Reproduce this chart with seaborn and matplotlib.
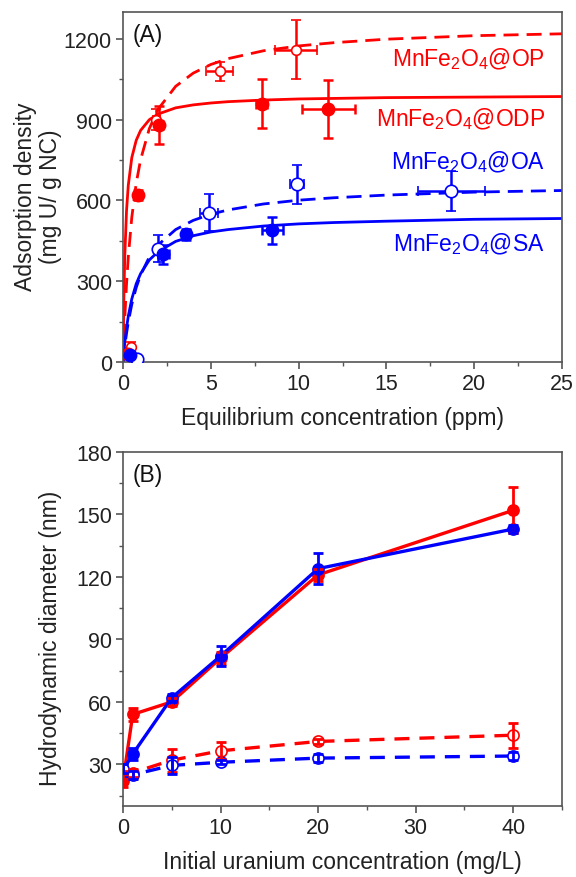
import matplotlib
matplotlib.use("Agg")
import matplotlib.pyplot as plt
import seaborn as sns
from matplotlib.ticker import MultipleLocator

# ---------------- Panel A: fitted isotherm curves ----------------
fit_x   = [0, 0.05, 0.1, 0.2, 0.3, 0.5, 0.75, 1, 1.5, 2, 3, 4, 5, 6, 8, 10, 12, 15, 20, 25]
fit_ODP = [0, 243, 391, 561, 656, 759, 823, 860, 900, 921, 944, 955, 962, 967, 973, 977, 979, 982, 984, 986]
fit_OP  = [0, 87, 163, 289, 389, 537, 663, 751, 867, 939, 1024, 1073, 1105, 1127, 1156, 1174, 1186, 1199, 1212, 1219]
fit_SA  = [0, 38, 71, 126, 170, 234, 290, 328, 379, 410, 448, 469, 483, 492, 505, 513, 518, 523, 530, 533]
fit_OA  = [0, 30, 58, 106, 147, 214, 276, 323, 390, 435, 492, 526, 549, 565, 587, 601, 610, 620, 631, 637]

# ---------------- Panel A: measured points ----------------
odp_x    = [0.3, 0.85, 2.05, 7.9, 11.7]
odp_y    = [30, 620, 880, 960, 940]
odp_xerr = [0.05, 0.1, 0.25, 0.3, 1.5]
odp_yerr = [10, 20, 70, 90, 107]

op_x    = [0.45, 1.9, 5.5, 9.85]
op_y    = [55, 900, 1080, 1160]
op_xerr = [0.1, 0.2, 0.75, 1.2]
op_yerr = [20, 40, 35, 110]

sa_x    = [0.4, 2.3, 3.6, 8.5]
sa_y    = [25, 400, 475, 490]
sa_xerr = [0.1, 0.3, 0.2, 0.6]
sa_yerr = [10, 35, 20, 50]

oa_x    = [0.8, 2.0, 4.9, 9.9, 18.7]
oa_y    = [12, 420, 555, 660, 635]
oa_xerr = [0.15, 0.2, 0.5, 0.4, 1.9]
oa_yerr = [8, 50, 70, 72, 75]

labels_A = ["MnFe$_\\mathregular{2}$O$_\\mathregular{4}$@OP",
            "MnFe$_\\mathregular{2}$O$_\\mathregular{4}$@ODP",
            "MnFe$_\\mathregular{2}$O$_\\mathregular{4}$@OA",
            "MnFe$_\\mathregular{2}$O$_\\mathregular{4}$@SA"]
label_y_A = [1104, 881, 722, 415]

# ---------------- Panel B ----------------
conc_B        = [0, 1, 5, 10, 20, 40]
red_solid     = [22, 54, 60, 81, 121, 152]
red_solid_err = [3, 3, 2, 3, 3, 11]
blue_solid    = [27, 35, 62, 82, 124, 143]
blue_solid_err = [3, 3, 2, 5, 7.5, 2]
red_open      = [25, 26, 32, 36.5, 41, 44]
red_open_err  = [2, 2, 5.5, 4, 1, 6]
blue_open     = [28, 25, 29.5, 31, 33, 34]
blue_open_err = [2, 2, 4, 1, 2, 2]

RED = "#ff0000"
BLUE = "#0000ff"

sns.set_style("ticks")
plt.rcParams['font.family'] = ['Liberation Sans', 'DejaVu Sans']
plt.rcParams['mathtext.fontset'] = 'custom'
plt.rcParams['mathtext.rm'] = 'Liberation Sans'
plt.rcParams['mathtext.it'] = 'Liberation Sans'
plt.rcParams['axes.edgecolor'] = '#555555'
plt.rcParams['axes.linewidth'] = 1.2
plt.rcParams['xtick.color'] = '#555555'
plt.rcParams['ytick.color'] = '#555555'
plt.rcParams['xtick.labelcolor'] = '#222222'
plt.rcParams['ytick.labelcolor'] = '#222222'

TICK_FS = 15.5
LAB_FS = 16.5

fig = plt.figure(figsize=(5.76, 8.78), dpi=100)
axA = fig.add_axes([123/576, 1-363/878, 439/576, 350/878])
axB = fig.add_axes([123/576, 1-807/878, 439/576, 354/878])

DASH = (0, (5.4, 2.9))

# ---- Panel A curves ----
sns.lineplot(x=fit_x, y=fit_OP, ax=axA, color=RED, lw=2.0, linestyle=DASH)
sns.lineplot(x=fit_x, y=fit_ODP, ax=axA, color=RED, lw=2.0)
sns.lineplot(x=fit_x, y=fit_OA, ax=axA, color=BLUE, lw=2.0, linestyle=DASH)
sns.lineplot(x=fit_x, y=fit_SA, ax=axA, color=BLUE, lw=2.0)

ekw = dict(ls='none', elinewidth=1.8, capsize=3.5, capthick=1.8, zorder=4)
axA.errorbar(op_x, op_y, xerr=op_xerr, yerr=op_yerr, fmt='o', color=RED,
             mfc='white', mec=RED, ms=7, mew=1.2, **ekw)
axA.errorbar(odp_x, odp_y, xerr=odp_xerr, yerr=odp_yerr, fmt='o', color=RED,
             mfc=RED, mec=RED, ms=9, **ekw)
axA.errorbar(oa_x, oa_y, xerr=oa_xerr, yerr=oa_yerr, fmt='o', color=BLUE,
             mfc='white', mec=BLUE, ms=9, mew=1.2, **ekw)
axA.errorbar(sa_x, sa_y, xerr=sa_xerr, yerr=sa_yerr, fmt='o', color=BLUE,
             mfc=BLUE, mec=BLUE, ms=9, **ekw)

for lab, yy, col in zip(labels_A, label_y_A, [RED, RED, BLUE, BLUE]):
    axA.text(24.03, yy, lab, color=col, fontsize=LAB_FS, ha='right', va='baseline')

axA.text(0.023, 0.917, "(A)", transform=axA.transAxes, fontsize=LAB_FS,
         ha='left', va='baseline', color='#111111')

axA.set_xlim(0, 25)
axA.set_ylim(0, 1300)
axA.xaxis.set_major_locator(MultipleLocator(5))
axA.xaxis.set_minor_locator(MultipleLocator(2.5))
axA.yaxis.set_major_locator(MultipleLocator(300))
axA.yaxis.set_minor_locator(MultipleLocator(150))
axA.set_xlabel("Equilibrium concentration (ppm)", fontsize=LAB_FS, color='#222222')
axA.set_ylabel("Adsorption density\n(mg U/ g NC)", fontsize=LAB_FS, color='#222222',
               linespacing=1.1)

# ---- Panel B ----
for vals, errs, col, filled in [(red_solid, red_solid_err, RED, True),
                                (blue_solid, blue_solid_err, BLUE, True),
                                (red_open, red_open_err, RED, False),
                                (blue_open, blue_open_err, BLUE, False)]:
    ls = '-' if filled else (0, (4.5, 3.0))
    sns.lineplot(x=conc_B, y=vals, ax=axB, color=col, lw=2.4, linestyle=ls,
                 marker='o', ms=8, mfc=(col if filled else 'white'), mec=col, mew=1.2)
    axB.errorbar(conc_B, vals, yerr=errs, fmt='none', ecolor=col, elinewidth=2.0,
                 capsize=3.5, capthick=2.0, zorder=4)

axB.text(0.023, 0.918, "(B)", transform=axB.transAxes, fontsize=LAB_FS,
         ha='left', va='baseline', color='#111111')
axB.set_xlim(0, 45)
axB.set_ylim(10, 180)
axB.xaxis.set_major_locator(MultipleLocator(10))
axB.xaxis.set_minor_locator(MultipleLocator(5))
axB.yaxis.set_major_locator(MultipleLocator(30))
axB.yaxis.set_minor_locator(MultipleLocator(15))
axB.set_xlabel("Initial uranium concentration (mg/L)", fontsize=LAB_FS, color='#222222')
axB.set_ylabel("Hydrodynamic diameter (nm)", fontsize=LAB_FS, color='#222222')

for ax in (axA, axB):
    for s in ax.spines.values():
        s.set_visible(True)
    ax.tick_params(axis='both', which='major', direction='out', length=5, width=1.2,
                   labelsize=TICK_FS, pad=3)
    ax.tick_params(axis='both', which='minor', direction='out', length=3, width=1.0)
    ax.tick_params(top=False, right=False, which='both')

axA.yaxis.set_label_coords(-0.139, 0.475)
axB.yaxis.set_label_coords(-0.139, 0.475)
axA.xaxis.set_label_coords(0.5, -0.125)
axB.xaxis.set_label_coords(0.5, -0.125)

fig.savefig("out.png", dpi=100)
